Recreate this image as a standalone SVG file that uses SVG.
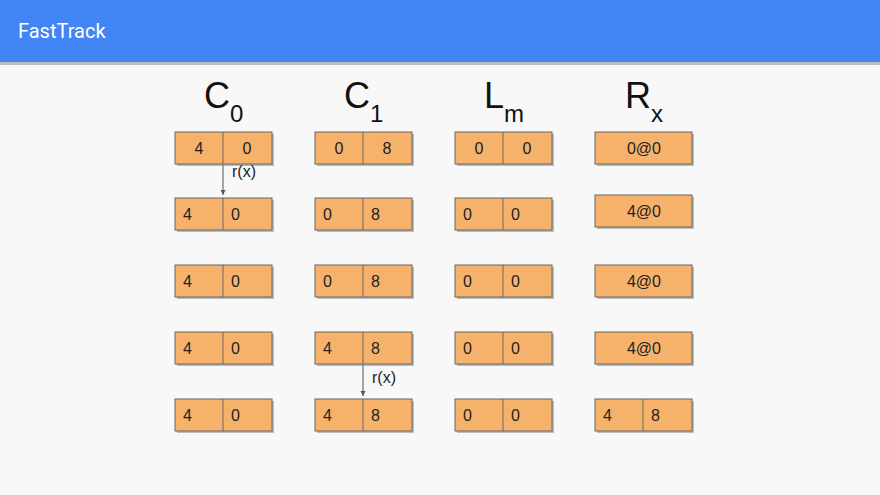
<svg xmlns="http://www.w3.org/2000/svg" width="880" height="495" viewBox="0 0 880 495">
<defs>
<style>
.box{fill:#F6B26B;stroke:#666;stroke-width:1}
.div{stroke:#666;stroke-width:1}
.sh{fill:#bbb}
.t{font-family:"Liberation Sans",Arial,sans-serif;font-size:16px;fill:#222}
.tc{font-family:"Liberation Sans",Arial,sans-serif;font-size:16px;fill:#222;text-anchor:middle}
.title{font-family:"Liberation Sans",Arial,sans-serif;font-size:36px;fill:#111}
.sub{font-size:24px}
.lbl{font-family:"Liberation Sans",Arial,sans-serif;font-size:16px;fill:#222}
.conn{stroke:#555;stroke-width:1;fill:none}
</style>
<marker id="ah" markerWidth="6" markerHeight="6" refX="5" refY="3" orient="auto" markerUnits="userSpaceOnUse">
<path d="M0,0.5 L5,3 L0,5.5 Z" fill="#555"/>
</marker>
</defs>
<rect width="880" height="495" fill="#F8F8F8"/>
<rect x="0" y="62" width="880" height="3" fill="#BDBDBD"/>
<rect width="880" height="62" fill="#4285F4"/>
<text x="18" y="38" font-family="Roboto,'Liberation Sans',sans-serif" font-size="20" fill="#fff">FastTrack</text>

<g id="titles">
<text class="title" x="204" y="108">C<tspan class="sub" dy="14">0</tspan></text>
<text class="title" x="344" y="108">C<tspan class="sub" dy="14">1</tspan></text>
<text class="title" x="484" y="108">L<tspan class="sub" dy="14">m</tspan></text>
<text class="title" x="625" y="108">R<tspan class="sub" dy="14">x</tspan></text>
</g>

<!-- Row 1 -->
<g id="c0r1"><rect class="sh" x="177" y="134" width="97" height="32"/><rect class="box" x="175" y="132" width="97" height="32"/><line class="div" x1="223" y1="132" x2="223" y2="164"/><text class="tc" x="199" y="154">4</text><text class="tc" x="247" y="154">0</text></g>
<g id="c1r1"><rect class="sh" x="317" y="134" width="97" height="32"/><rect class="box" x="315" y="132" width="97" height="32"/><line class="div" x1="363" y1="132" x2="363" y2="164"/><text class="tc" x="339" y="154">0</text><text class="tc" x="387" y="154">8</text></g>
<g id="lmr1"><rect class="sh" x="457" y="134" width="97" height="32"/><rect class="box" x="455" y="132" width="97" height="32"/><line class="div" x1="503" y1="132" x2="503" y2="164"/><text class="tc" x="479" y="154">0</text><text class="tc" x="527" y="154">0</text></g>
<g id="rxr1"><rect class="sh" x="597" y="134" width="97" height="32"/><rect class="box" x="595" y="132" width="97" height="32"/><text class="tc" x="644" y="154">0@0</text></g>

<!-- Row 2 -->
<g id="c0r2"><rect class="sh" x="177" y="200" width="97" height="32"/><rect class="box" x="175" y="198" width="97" height="32"/><line class="div" x1="223" y1="198" x2="223" y2="230"/><text class="t" x="183" y="220">4</text><text class="t" x="231" y="220">0</text></g>
<g id="c1r2"><rect class="sh" x="317" y="200" width="97" height="32"/><rect class="box" x="315" y="198" width="97" height="32"/><line class="div" x1="363" y1="198" x2="363" y2="230"/><text class="t" x="323" y="220">0</text><text class="t" x="371" y="220">8</text></g>
<g id="lmr2"><rect class="sh" x="457" y="200" width="97" height="32"/><rect class="box" x="455" y="198" width="97" height="32"/><line class="div" x1="503" y1="198" x2="503" y2="230"/><text class="t" x="463" y="220">0</text><text class="t" x="511" y="220">0</text></g>
<g id="rxr2"><rect class="sh" x="597" y="197" width="97" height="32"/><rect class="box" x="595" y="195" width="97" height="32"/><text class="tc" x="644" y="217">4@0</text></g>

<!-- Row 3 -->
<g id="c0r3"><rect class="sh" x="177" y="267" width="97" height="32"/><rect class="box" x="175" y="265" width="97" height="32"/><line class="div" x1="223" y1="265" x2="223" y2="297"/><text class="t" x="183" y="287">4</text><text class="t" x="231" y="287">0</text></g>
<g id="c1r3"><rect class="sh" x="317" y="267" width="97" height="32"/><rect class="box" x="315" y="265" width="97" height="32"/><line class="div" x1="363" y1="265" x2="363" y2="297"/><text class="t" x="323" y="287">0</text><text class="t" x="371" y="287">8</text></g>
<g id="lmr3"><rect class="sh" x="457" y="267" width="97" height="32"/><rect class="box" x="455" y="265" width="97" height="32"/><line class="div" x1="503" y1="265" x2="503" y2="297"/><text class="t" x="463" y="287">0</text><text class="t" x="511" y="287">0</text></g>
<g id="rxr3"><rect class="sh" x="597" y="267" width="97" height="32"/><rect class="box" x="595" y="265" width="97" height="32"/><text class="tc" x="644" y="287">4@0</text></g>

<!-- Row 4 -->
<g id="c0r4"><rect class="sh" x="177" y="334" width="97" height="32"/><rect class="box" x="175" y="332" width="97" height="32"/><line class="div" x1="223" y1="332" x2="223" y2="364"/><text class="t" x="183" y="354">4</text><text class="t" x="231" y="354">0</text></g>
<g id="c1r4"><rect class="sh" x="317" y="334" width="97" height="32"/><rect class="box" x="315" y="332" width="97" height="32"/><line class="div" x1="363" y1="332" x2="363" y2="364"/><text class="t" x="323" y="354">4</text><text class="t" x="371" y="354">8</text></g>
<g id="lmr4"><rect class="sh" x="457" y="334" width="97" height="32"/><rect class="box" x="455" y="332" width="97" height="32"/><line class="div" x1="503" y1="332" x2="503" y2="364"/><text class="t" x="463" y="354">0</text><text class="t" x="511" y="354">0</text></g>
<g id="rxr4"><rect class="sh" x="597" y="334" width="97" height="32"/><rect class="box" x="595" y="332" width="97" height="32"/><text class="tc" x="644" y="354">4@0</text></g>

<!-- Row 5 -->
<g id="c0r5"><rect class="sh" x="177" y="401" width="97" height="32"/><rect class="box" x="175" y="399" width="97" height="32"/><line class="div" x1="223" y1="399" x2="223" y2="431"/><text class="t" x="183" y="421">4</text><text class="t" x="231" y="421">0</text></g>
<g id="c1r5"><rect class="sh" x="317" y="401" width="97" height="32"/><rect class="box" x="315" y="399" width="97" height="32"/><line class="div" x1="363" y1="399" x2="363" y2="431"/><text class="t" x="323" y="421">4</text><text class="t" x="371" y="421">8</text></g>
<g id="lmr5"><rect class="sh" x="457" y="401" width="97" height="32"/><rect class="box" x="455" y="399" width="97" height="32"/><line class="div" x1="503" y1="399" x2="503" y2="431"/><text class="t" x="463" y="421">0</text><text class="t" x="511" y="421">0</text></g>
<g id="rxr5"><rect class="sh" x="597" y="401" width="97" height="32"/><rect class="box" x="595" y="399" width="97" height="32"/><line class="div" x1="643" y1="399" x2="643" y2="431"/><text class="t" x="603" y="421">4</text><text class="t" x="651" y="421">8</text></g>

<g id="connectors">
<line class="conn" x1="223" y1="165" x2="223" y2="195" marker-end="url(#ah)"/>
<text class="lbl" x="232" y="177">r(x)</text>
<line class="conn" x1="363" y1="365" x2="363" y2="396" marker-end="url(#ah)"/>
<text class="lbl" x="372" y="383">r(x)</text>
</g>
</svg>
